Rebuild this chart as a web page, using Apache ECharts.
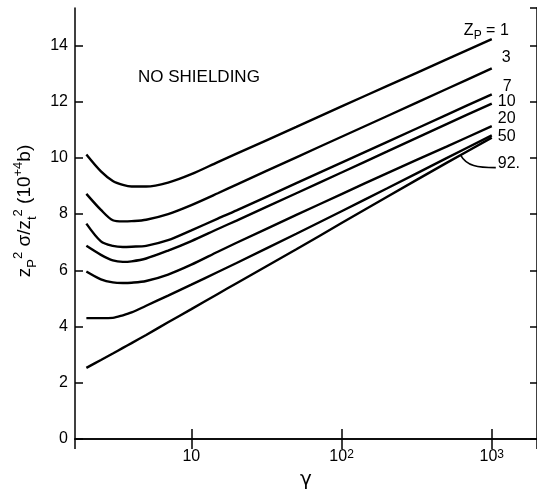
<!DOCTYPE html>
<html><head><meta charset="utf-8">
<script src="https://cdn.jsdelivr.net/npm/echarts@6/dist/echarts.min.js"></script>
<style>html,body{margin:0;padding:0;background:#fff}#c{width:537px;height:495px}</style>
</head><body><div id="c"></div>
<script>
// ---- data ----
const gamma = [2, 2.5, 3, 3.5, 4, 5, 7, 10, 15, 20, 50, 100, 200, 500, 1000];
const zp1  = [10.12, 9.52, 9.18, 9.04, 8.98, 8.98, 9.12, 9.42, 9.85, 10.15, 11.10, 11.83, 12.55, 13.50, 14.22];
const zp3  = [8.72, 8.15, 7.78, 7.74, 7.75, 7.80, 8.00, 8.32, 8.74, 9.05, 10.02, 10.75, 11.48, 12.45, 13.18];
const zp7  = [7.66, 7.03, 6.87, 6.83, 6.84, 6.87, 7.07, 7.42, 7.84, 8.13, 9.10, 9.83, 10.56, 11.53, 12.26];
const zp10 = [6.87, 6.55, 6.35, 6.30, 6.32, 6.42, 6.70, 7.04, 7.47, 7.77, 8.74, 9.48, 10.22, 11.20, 11.93];
const zp20 = [5.96, 5.68, 5.57, 5.55, 5.56, 5.62, 5.85, 6.20, 6.66, 6.98, 7.97, 8.71, 9.45, 10.40, 11.13];
const zp50 = [4.30, 4.30, 4.31, 4.40, 4.50, 4.74, 5.10, 5.49, 5.94, 6.26, 7.30, 8.10, 8.91, 9.99, 10.80];
const zp92 = [2.53, 2.81, 3.04, 3.24, 3.41, 3.70, 4.15, 4.62, 5.16, 5.54, 6.75, 7.68, 8.61, 9.82, 10.72];
const curveLabels = ['{b|Z}{s|P}{b| = 1}', '3', '7', '10', '20', '50', '92.'];
const yTickValues = [0, 2, 4, 6, 8, 10, 12, 14];
const xTickLabels = { 1: '10', 2: '10{sup|2}', 3: '10{sup|3}' };
const panelNote = 'NO SHIELDING';
const xTitle = 'γ';
const yTitle = '{m|z}{sub|P}{sup|2}{m| σ/z}{sub|t}{sup|2}{m| (10}{sup|+4}{m|b)}';

// ---- styling ----
const FONT = '"Liberation Sans", Arial, Helvetica, sans-serif';
const allCurves = [zp1, zp3, zp7, zp10, zp20, zp50, zp92];
const labelPlacement = [
  { align: 'right', offset: [17, -9] },
  { align: 'left', offset: [10, -11] },
  { align: 'left', offset: [11, -8] },
  { align: 'left', offset: [6, -2] },
  { align: 'left', offset: [6, -7] },
  { align: 'left', offset: [6, 1.5] },
  { align: 'left', offset: [6, 26] }
];

const chart = echarts.init(document.getElementById('c'), null, { renderer: 'canvas' });

const axisLineStyle = { color: '#000', width: 1.5 };
const xLabelFormatter = function (v) {
  const e = Math.round(Math.log10(v));
  if (Math.abs(Math.log10(v) - e) > 1e-6) return '';
  return xTickLabels[e] || '';
};

const series = allCurves.map(function (arr, i) {
  return {
    type: 'line',
    name: curveLabels[i],
    data: gamma.map(function (g, k) { return [g, arr[k]]; }),
    showSymbol: false,
    smooth: 0.3,
    lineStyle: { color: '#000', width: 2.4 },
    itemStyle: { color: '#000' },
    endLabel: {
      show: true,
      formatter: curveLabels[i],
      distance: 0,
      align: labelPlacement[i].align,
      verticalAlign: 'middle',
      offset: labelPlacement[i].offset,
      color: '#000',
      fontSize: 16,
      fontFamily: FONT,
      rich: {
        b: { fontSize: 16, fontFamily: FONT, color: '#000', lineHeight: 22 },
        s: { fontSize: 12, fontFamily: FONT, color: '#000', lineHeight: 12, verticalAlign: 'bottom' }
      }
    },
    emphasis: { disabled: true },
    silent: true
  };
});

chart.setOption({
  animation: false,
  backgroundColor: '#fff',
  grid: { left: 75, right: -1, top: 8, bottom: 55, containLabel: false },
  xAxis: [
    {
      type: 'log', logBase: 10, min: 1.68, max: 2000, position: 'bottom',
      axisLine: { show: true, lineStyle: axisLineStyle },
      axisTick: { show: true, inside: true, length: 10, lineStyle: axisLineStyle },
      minorTick: { show: false }, splitLine: { show: false }, minorSplitLine: { show: false },
      axisLabel: {
        show: true, margin: 10, color: '#000', fontSize: 16, fontFamily: FONT,
        showMinLabel: false, showMaxLabel: false,
        formatter: xLabelFormatter,
        rich: { sup: { fontSize: 12, fontFamily: FONT, color: '#000', verticalAlign: 'top', lineHeight: 12 } }
      },
      name: xTitle, nameLocation: 'middle', nameGap: 31,
      nameTextStyle: { color: '#000', fontSize: 20, fontFamily: '"DejaVu Sans", ' + FONT }
    },
    {
      type: 'log', logBase: 10, min: 1.68, max: 2000, position: 'top',
      axisLine: { show: true, lineStyle: axisLineStyle },
      axisTick: { show: true, inside: true, length: 10, lineStyle: axisLineStyle },
      axisLabel: { show: false }, splitLine: { show: false }
    }
  ],
  yAxis: [
    {
      type: 'value', min: yTickValues[0], max: 15.33, interval: yTickValues[1] - yTickValues[0], position: 'left',
      axisLine: { show: true, lineStyle: axisLineStyle },
      axisTick: { show: true, inside: true, length: 8, lineStyle: axisLineStyle },
      splitLine: { show: false },
      axisLabel: { show: true, margin: 7, color: '#000', fontSize: 16, fontFamily: FONT, showMaxLabel: false }
    },
    {
      type: 'value', min: yTickValues[0], max: 15.33, interval: yTickValues[1] - yTickValues[0], position: 'right',
      axisLine: { show: true, lineStyle: axisLineStyle },
      axisTick: { show: true, inside: true, length: 7, lineStyle: axisLineStyle },
      splitLine: { show: false }, axisLabel: { show: false }
    }
  ],
  series: series,
  graphic: [
    {
      id: 'note', type: 'text', left: 138, top: 69, silent: true,
      style: { text: panelNote, fill: '#000', fontSize: 17, fontFamily: FONT }
    },
    {
      id: 'ytitle', type: 'text', x: 25, y: 211, rotation: Math.PI / 2, silent: true,
      style: {
        text: yTitle, align: 'center', verticalAlign: 'middle', fill: '#000',
        fontSize: 19, fontFamily: FONT,
        rich: {
          m: { fontSize: 19, fontFamily: FONT, fill: '#000', lineHeight: 27 },
          sub: { fontSize: 13, fontFamily: FONT, fill: '#000', lineHeight: 13, verticalAlign: 'bottom' },
          sup: { fontSize: 13, fontFamily: FONT, fill: '#000', lineHeight: 13, verticalAlign: 'top' }
        }
      }
    }
  ]
});

// leader line from the "92." label to its curve (anchored through the axes)
function valueAt(g, arr) {
  const lg = Math.log10(g);
  for (let k = 0; k < gamma.length - 1; k++) {
    const a = Math.log10(gamma[k]), b = Math.log10(gamma[k + 1]);
    if (lg >= a && lg <= b) { const t = (lg - a) / (b - a); return arr[k] + t * (arr[k + 1] - arr[k]); }
  }
  return arr[arr.length - 1];
}
const anchorG = 620;
const p0 = chart.convertToPixel({ gridIndex: 0 }, [anchorG, valueAt(anchorG, zp92)]);
const pe = chart.convertToPixel({ gridIndex: 0 }, [gamma[gamma.length - 1], zp92[zp92.length - 1]]);
const p3 = [pe[0] + 4, pe[1] + 30];
chart.setOption({
  graphic: [{
    id: 'leader', type: 'bezierCurve', silent: true,
    shape: { x1: p0[0], y1: p0[1], cpx1: p0[0] + 6, cpy1: p0[1] + 11, cpx2: p3[0] - 18, cpy2: p3[1], x2: p3[0], y2: p3[1] },
    style: { stroke: '#000', lineWidth: 1.6, fill: null }
  }]
});
</script>
</body></html>
